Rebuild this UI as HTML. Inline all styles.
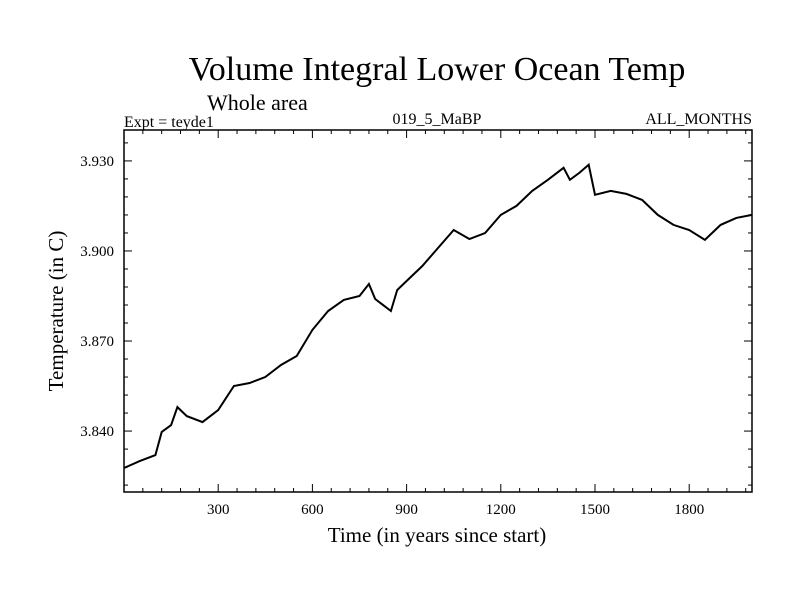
<!DOCTYPE html>
<html><head><meta charset="utf-8"><style>
body{margin:0;background:#fff}
svg{display:block;font-family:"Liberation Serif",serif}
</style></head><body>
<svg id="chart" width="800" height="600">
<text x="437" y="80" font-size="34" text-anchor="middle">Volume Integral Lower Ocean Temp</text>
<text x="207" y="110" font-size="22">Whole area</text>
<text x="124" y="127" font-size="16">Expt = teyde1</text>
<text x="437" y="124" font-size="16" text-anchor="middle">019_5_MaBP</text>
<text x="752" y="124" font-size="16" text-anchor="end">ALL_MONTHS</text>
<text x="437" y="542" font-size="21" text-anchor="middle">Time (in years since start)</text>
<text transform="translate(63,311) rotate(-90)" font-size="21" text-anchor="middle">Temperature (in C)</text>
<g id="ticks"></g>
<path id="line" fill="none" stroke="#000" stroke-width="2"/>
<rect x="124" y="130" width="628" height="362" fill="none" stroke="#000" stroke-width="1.5"/>
</svg>
<script>
const years=[0,50,100,120,150,170,200,250,300,350,400,450,500,550,600,650,700,750,780,800,850,870,900,950,1000,1050,1100,1150,1200,1250,1300,1350,1400,1420,1450,1480,1500,1550,1600,1650,1700,1750,1800,1850,1900,1950,2000];
const temps=[3.8277,3.830,3.832,3.8397,3.842,3.848,3.845,3.843,3.847,3.855,3.856,3.858,3.862,3.865,3.8737,3.880,3.8837,3.885,3.889,3.884,3.880,3.887,3.890,3.895,3.901,3.907,3.904,3.906,3.912,3.915,3.920,3.9237,3.9277,3.9237,3.926,3.9287,3.9187,3.920,3.919,3.917,3.912,3.9087,3.907,3.9037,3.9087,3.911,3.912];
const xTicks=[300,600,900,1200,1500,1800];
const yTicks=[3.840,3.870,3.900,3.930];
const X0=124,X1=752,Y0=130,Y1=492;
const xMin=0,xMax=2000,yMin=3.8197,yMax=3.9403;
const sx=v=>X0+(v-xMin)/(xMax-xMin)*(X1-X0);
const sy=v=>Y1-(v-yMin)/(yMax-yMin)*(Y1-Y0);
const NS="http://www.w3.org/2000/svg";
const g=document.getElementById('ticks');
function ln(x1,y1,x2,y2){const l=document.createElementNS(NS,'line');
l.setAttribute('x1',x1);l.setAttribute('y1',y1);l.setAttribute('x2',x2);l.setAttribute('y2',y2);l.setAttribute('stroke','#000');l.setAttribute('stroke-width','1');


g.appendChild(l);}
function tx(x,y,s,a,name){const t=document.createElementNS(NS,'text');t.setAttribute('x',x);t.setAttribute('y',y);t.setAttribute('font-size','15');t.setAttribute('text-anchor',a);t.textContent=s;


g.appendChild(t);}
for(let v=60;v<xMax;v+=60){const x=sx(v),major=v%300===0,L=major?8:4;ln(x,Y1,x,Y1-L);ln(x,Y0,x,Y0+L);}
for(let v=3.822;v<yMax;v+=0.006){const y=sy(v),major=Math.abs((v-3.84)/0.03-Math.round((v-3.84)/0.03))<0.01,L=major?8:4;ln(X0,y,X0+L,y);ln(X1,y,X1-L,y);}
xTicks.forEach(v=>tx(sx(v),514,String(v),'middle','x-tick-label'));
yTicks.forEach(v=>tx(X0-10,sy(v)+5,v.toFixed(3),'end','y-tick-label'));
document.getElementById('line').setAttribute('d',years.map((v,i)=>(i?'L':'M')+sx(v).toFixed(1)+','+sy(temps[i]).toFixed(1)).join(''));
</script>
</body></html>
